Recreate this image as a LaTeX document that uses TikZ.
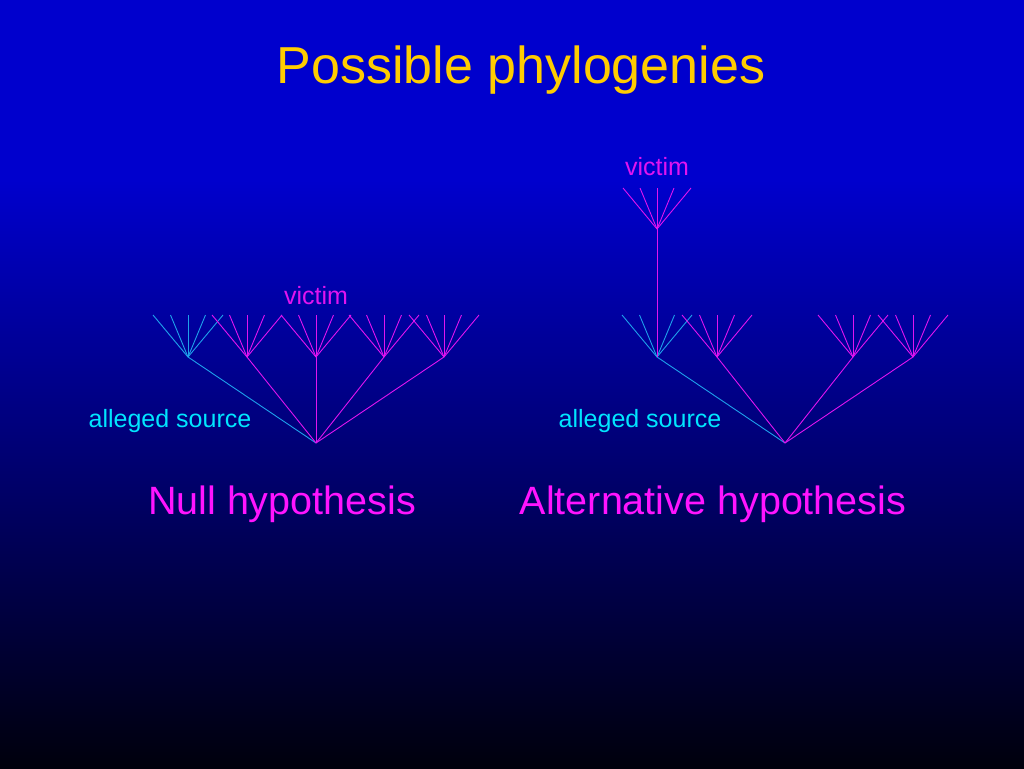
\documentclass[tikz,border=0pt]{standalone}
\usepackage{fontspec}
\setmainfont{Liberation Sans}
\usetikzlibrary{positioning}
\definecolor{bgblue}{RGB}{0,0,205}
\definecolor{bgdark}{RGB}{0,0,12}
\definecolor{srccol}{RGB}{30,160,235}
\definecolor{viccol}{RGB}{225,20,240}
\definecolor{titlecol}{RGB}{255,204,0}
\definecolor{labcyan}{RGB}{0,230,255}
\definecolor{hypcol}{RGB}{255,20,255}

\begin{document}
\begin{tikzpicture}[
    x=1pt, y=-1pt,
    src/.style={draw=srccol, line width=0.9pt},
    vic/.style={draw=viccol, line width=0.9pt},
    lbl/.style={anchor=base, inner sep=0pt, font=\fontsize{25}{30}\selectfont},
    hyp/.style={anchor=base, inner sep=0pt, text=hypcol, font=\fontsize{39.5}{46}\selectfont}
  ]

  % Background
  \fill[bgblue] (0,0) rectangle (1024,181);
  \shade[top color=bgblue, bottom color=bgdark] (0,180) rectangle (1024,768);

  % Title
  \node[anchor=base, inner sep=0pt, text=titlecol, font=\fontsize{52}{60}\selectfont]
    (title) at (521,83) {Possible phylogenies};

  % Nodes: null hypothesis
  \coordinate (nroot) at (316,443);
  \coordinate (ns) at (188,357);
  \coordinate (na) at (247,357);
  \coordinate (nv) at (316,357);
  \coordinate (nb) at (384,357);
  \coordinate (nc) at (444,357);

  % Nodes: alternative hypothesis
  \coordinate (aroot) at (785,443);
  \coordinate (as) at (657,357);
  \coordinate (aa) at (717,357);
  \coordinate (ab) at (853,357);
  \coordinate (ac) at (913,357);
  \coordinate (av) at (657,229);

  % Leaves
  \foreach \n in {ns,na,nv,nb,nc,as,aa,ab,ac}
    \foreach \i/\dx in {1/-35,2/-17.5,3/0,4/17.5,5/35}
      \coordinate (\n\i) at ([xshift=\dx pt, yshift=42pt]\n);
  \foreach \i/\dx in {1/-34,2/-17,3/0,4/17,5/34}
    \coordinate (av\i) at ([xshift=\dx pt, yshift=41pt]av);

  % Edges for the source
  \foreach \i in {1,...,5} {
    \draw[src] (ns) -- (ns\i);
    \draw[src] (as) -- (as\i);
  }
  \draw[src] (nroot) -- (ns);
  \draw[src] (aroot) -- (as);

  % Edges for the others
  \foreach \n in {na,nv,nb,nc} {
    \foreach \i in {1,...,5}
      \draw[vic] (\n) -- (\n\i);
    \draw[vic] (nroot) -- (\n);
  }
  \foreach \n in {aa,ab,ac} {
    \foreach \i in {1,...,5}
      \draw[vic] (\n) -- (\n\i);
    \draw[vic] (aroot) -- (\n);
  }

  % Edges for the victim
  \foreach \i in {1,...,5}
    \draw[vic] (av) -- (av\i);
  \draw[vic] (av) -- (as);

  % Labels
  \node[lbl, text=viccol] (nvlabel) at (316,304) {victim};
  \node[lbl, text=viccol] (avlabel) at (657,175) {victim};
  \node[lbl, text=labcyan] (nslabel) at (170,427) {alleged source};
  \node[lbl, text=labcyan] (aslabel) at (640,427) {alleged source};
  \node[hyp] (nullhyp) at (282,514) {Null hypothesis};
  \node[hyp] (althyp) at (713,514) {Alternative hypothesis};

\end{tikzpicture}
\end{document}
